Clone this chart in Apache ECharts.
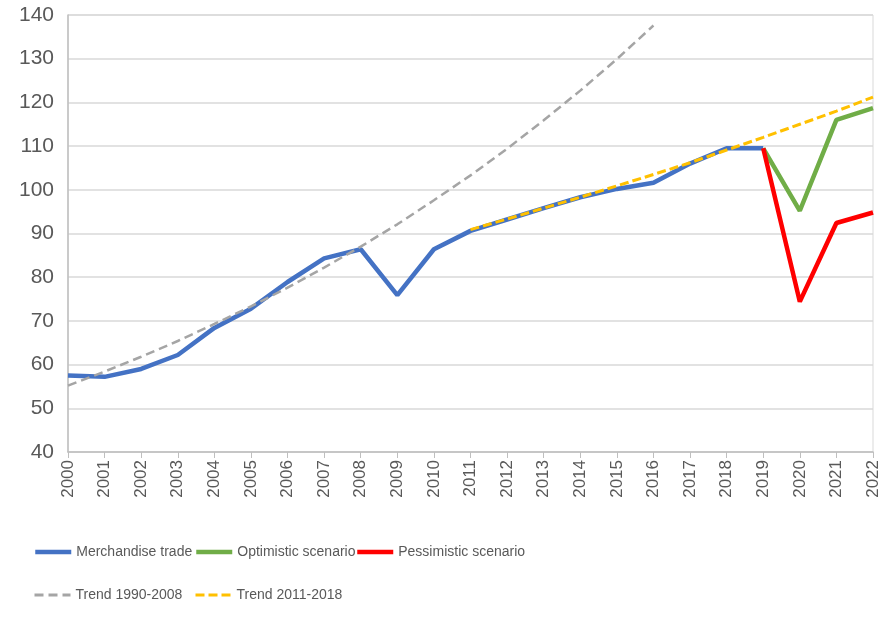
<!DOCTYPE html>
<html>
<head>
<meta charset="utf-8">
<script src="https://cdn.jsdelivr.net/npm/echarts@6/dist/echarts.min.js"></script>
<style>html,body{margin:0;padding:0;background:#fff}#c{width:886px;height:628px}</style>
</head>
<body>
<div id="c"></div>
<script>
const years = ['2000','2001','2002','2003','2004','2005','2006','2007','2008','2009','2010','2011','2012','2013','2014','2015','2016','2017','2018','2019','2020','2021','2022'];
const merchandise = [57.5,57.2,59.0,62.2,68.4,72.8,78.9,84.3,86.4,75.9,86.4,90.6,93.2,95.8,98.3,100.2,101.6,106.0,109.5,109.5,null,null,null];
const optimistic = [null,null,null,null,null,null,null,null,null,null,null,null,null,null,null,null,null,null,null,109.5,95.2,116.0,118.7];
const pessimistic = [null,null,null,null,null,null,null,null,null,null,null,null,null,null,null,null,null,null,null,109.5,74.4,92.4,94.8];
const trend1990 = [55.2,58.4,61.8,65.4,69.3,73.3,77.6,82.2,87.0,92.1,97.6,103.3,109.4,115.9,122.7,129.9,137.6,null,null,null,null,null,null];
const trend2011 = [null,null,null,null,null,null,null,null,null,null,null,90.9,93.3,95.8,98.3,100.9,103.5,106.2,109.1,112.0,115.0,118.0,121.2];
const yTicks = {min:40, max:140, interval:10};

const names = ['Merchandise trade','Optimistic scenario','Pessimistic scenario','Trend 1990-2008','Trend 2011-2018'];
const chart = echarts.init(document.getElementById('c'));
const legendText = {color:'#595959', fontSize:14, fontFamily:'"Liberation Sans","DejaVu Sans",sans-serif'};
function lg(name, left, top, w){
  return {data:[name], left:left, top:top, itemWidth:36, itemHeight:14, itemGap:5, textStyle:legendText, selectedMode:false,
    itemStyle:{opacity:0}, lineStyle:{width:w}};
}
chart.setOption({
  animation:false,
  grid:{left:68, right:13, top:15, bottom:176, show:true, borderColor:'#d9d9d9', borderWidth:1},
  legend:[lg(names[0],28,540,4.5), lg(names[1],189,540,4.5), lg(names[2],350,540,4.5), lg(names[3],28,583,3), lg(names[4],189,583,3)],
  xAxis:{type:'category', data:years, boundaryGap:false,
    axisLine:{lineStyle:{color:'#bfbfbf', width:1.5}},
    axisTick:{show:true, length:6, lineStyle:{color:'#bfbfbf'}},
    axisLabel:{rotate:90, margin:8, color:'#595959', fontSize:17, fontFamily:'"Liberation Sans","DejaVu Sans",sans-serif', interval:0},
    splitLine:{show:false}},
  yAxis:{type:'value', min:yTicks.min, max:yTicks.max, interval:yTicks.interval,
    axisLine:{show:true, lineStyle:{color:'#bfbfbf', width:1.5}},
    axisTick:{show:false},
    axisLabel:{color:'#595959', fontSize:21, margin:14, fontFamily:'"Liberation Sans","DejaVu Sans",sans-serif'},
    splitLine:{lineStyle:{color:'#d9d9d9', width:1.5}}},
  series:[
    {name:names[0], type:'line', data:merchandise, symbol:'none', lineStyle:{color:'#4472C4', width:4.5}, itemStyle:{color:'#4472C4'}, z:2},
    {name:names[1], type:'line', data:optimistic, symbol:'none', lineStyle:{color:'#70AD47', width:4.5}, itemStyle:{color:'#70AD47'}, z:2},
    {name:names[2], type:'line', data:pessimistic, symbol:'none', lineStyle:{color:'#FF0000', width:4.5}, itemStyle:{color:'#FF0000'}, z:2},
    {name:names[3], type:'line', data:trend1990, symbol:'none', lineStyle:{color:'#A5A5A5', width:2.5, type:[9,5]}, itemStyle:{color:'#A5A5A5'}, z:3},
    {name:names[4], type:'line', data:trend2011, symbol:'none', lineStyle:{color:'#FFC000', width:3, type:[9,4]}, itemStyle:{color:'#FFC000'}, z:3}
  ]
});
</script>
</body>
</html>
